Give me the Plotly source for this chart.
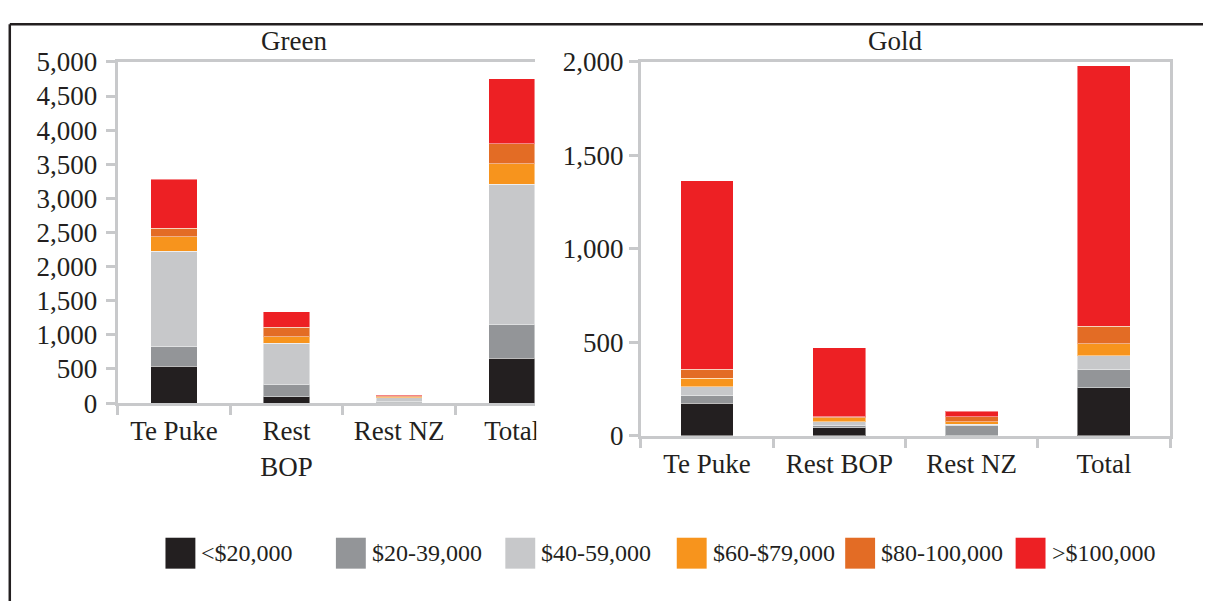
import plotly.graph_objects as go

W, H = 1195, 608
# screen placement measured from the previous renders
X_OFF = 8
Y_OFF, Y_SCALE = 22, 0.953

regions = ["Te Puke", "Rest BOP", "Rest NZ", "Total"]
bands = ["<$20,000", "$20-39,000", "$40-59,000", "$60-$79,000", "$80-100,000", ">$100,000"]
band_colors = ["#231f20", "#939598", "#c7c8ca", "#f7941d", "#e36c25", "#ed2024"]

# growers by income band, per region (Te Puke, Rest BOP, Rest NZ, Total)
green = [
    [540, 90, 5, 660],
    [285, 185, 15, 495],
    [1400, 600, 55, 2050],
    [210, 100, 20, 305],
    [125, 135, 10, 290],
    [720, 225, 20, 950],
]
gold = [
    [176, 44, 2, 257],
    [38, 11, 55, 96],
    [50, 20, 7, 77],
    [46, 23, 11, 64],
    [48, 5, 28, 94],
    [1006, 369, 29, 1391],
]

green_ticktext = ["Te Puke", "Rest<br>BOP", "Rest NZ", "Total"]
gold_ticktext = ["Te Puke", "Rest BOP", "Rest NZ", "Total"]


def px(x):
    # screen pixel -> paper x
    return (x - X_OFF) / W


def py(y):
    # screen pixel -> paper y
    return 1 - ((y - Y_OFF) / Y_SCALE) / H


FONT = "Liberation Serif, Times New Roman, serif"
AXIS = "#c8c9cb"
TXT = "#231f20"

fig = go.Figure()

for i, name in enumerate(bands):
    fig.add_trace(go.Bar(
        x=regions, y=green[i], name=name, xaxis="x", yaxis="y",
        marker=dict(color=band_colors[i], line=dict(width=1, color="rgba(255,255,255,0.45)")),
        width=0.41, showlegend=False,
    ))
    fig.add_trace(go.Bar(
        x=regions, y=gold[i], name=name, xaxis="x2", yaxis="y2",
        marker=dict(color=band_colors[i], line=dict(width=1, color="rgba(255,255,255,0.45)")),
        width=0.4, showlegend=False,
    ))

axis_common = dict(
    showline=True, linecolor=AXIS, linewidth=3,
    ticks="outside", tickcolor=AXIS, tickwidth=3, ticklen=9,
    showgrid=False, zeroline=False,
    tickfont=dict(family=FONT, size=27, color=TXT),
)

fig.update_layout(
    width=W, height=H, barmode="stack",
    margin=dict(l=0, r=0, t=0, b=0),
    paper_bgcolor="white", plot_bgcolor="white",
    font=dict(family=FONT, color=TXT),
    xaxis=dict(
        **axis_common, domain=[px(118), px(537)], anchor="y",
        range=[-0.5, 3.208], tickson="boundaries", mirror=True,
        tickvals=regions, ticktext=green_ticktext, ticklabelstandoff=2,
    ),
    yaxis=dict(
        **axis_common, domain=[py(403), py(61)], anchor="x",
        range=[0, 5000], dtick=500, tickformat=",", ticklabelstandoff=3,
    ),
    xaxis2=dict(
        **axis_common, domain=[px(643), px(1174)], anchor="y2",
        range=[-0.5, 3.5], tickson="boundaries", mirror=True,
        tickvals=regions, ticktext=gold_ticktext, ticklabelstandoff=2,
    ),
    yaxis2=dict(
        **axis_common, domain=[py(436), py(61)], anchor="x2",
        range=[0, 2000], dtick=500, tickformat=",", mirror=True,
    ),
)

annotations = [
    dict(text="Green", x=px(295), y=py(40), xref="paper", yref="paper",
         xanchor="center", yanchor="middle", showarrow=False,
         font=dict(family=FONT, size=27, color=TXT)),
    dict(text="Gold", x=px(898), y=py(40), xref="paper", yref="paper",
         xanchor="center", yanchor="middle", showarrow=False,
         font=dict(family=FONT, size=27, color=TXT)),
]

shapes = [
    # outer frame (top and left edges)
    dict(type="line", xref="paper", yref="paper", x0=0.0015, x1=1.02, y0=0.998, y1=0.998,
         line=dict(color=TXT, width=2.5)),
    dict(type="line", xref="paper", yref="paper", x0=0.0015, x1=0.0015, y0=0.998, y1=-0.02,
         line=dict(color=TXT, width=2.5)),
    # green panel is cropped on its right side
    dict(type="rect", xref="paper", yref="paper", x0=px(538), x1=px(552), y0=py(460), y1=py(420),
         fillcolor="white", line=dict(width=0), layer="above"),
]

# custom legend with large swatches
legend_x = [166, 337, 507, 679, 848, 1019]
for i, name in enumerate(bands):
    x0 = legend_x[i]
    shapes.append(dict(type="rect", xref="paper", yref="paper",
                       x0=px(x0), x1=px(x0 + 30), y0=py(569), y1=py(538),
                       fillcolor=band_colors[i], line=dict(width=0)))
    annotations.append(dict(text=name, x=px(x0 + 34), y=py(553), xref="paper", yref="paper",
                            xanchor="left", yanchor="middle", showarrow=False,
                            font=dict(family=FONT, size=24, color=TXT)))

fig.update_layout(annotations=annotations, shapes=shapes)

fig.write_html("out.html")
